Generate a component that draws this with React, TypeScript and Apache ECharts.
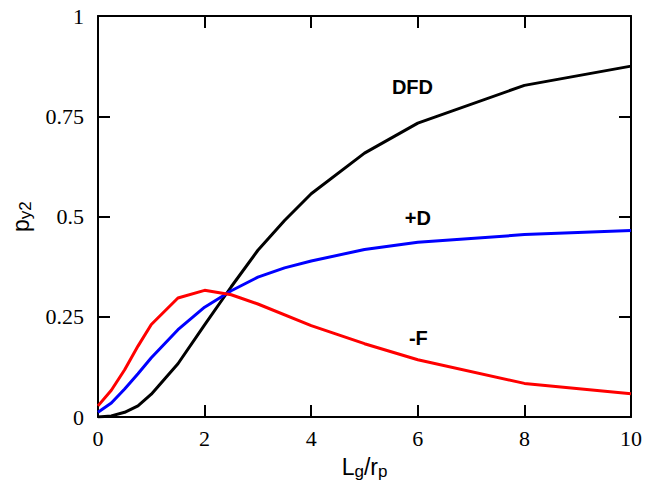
import React, { useEffect, useRef } from "react";
import * as echarts from "echarts";

const xDFD = [0, 0.25, 0.5, 0.75, 1, 1.5, 2, 2.5, 3, 3.5, 4, 5, 6, 8, 10];
const yDFD = [0, 0.003, 0.012, 0.028, 0.057, 0.133, 0.23, 0.325, 0.416, 0.49, 0.557, 0.658, 0.733, 0.827, 0.875];

const xPD = [0, 0.25, 0.5, 0.75, 1, 1.5, 2, 2.5, 3, 3.5, 4, 5, 6, 8, 10];
const yPD = [0.012, 0.035, 0.07, 0.108, 0.148, 0.218, 0.274, 0.315, 0.349, 0.372, 0.389, 0.418, 0.436, 0.455, 0.465];

const xMF = [0, 0.25, 0.5, 0.75, 1, 1.5, 2, 2.5, 3, 4, 5, 6, 8, 10];
const yMF = [0.028, 0.067, 0.118, 0.177, 0.231, 0.297, 0.316, 0.305, 0.282, 0.228, 0.183, 0.143, 0.084, 0.058];

const xTicks = { min: 0, max: 10, interval: 2 };
const yTicks = { min: 0, max: 1, interval: 0.25 };

const curveLabels = [
  { text: "DFD", x: 5.9, y: 0.824 },
  { text: "+D", x: 6.0, y: 0.4975 },
  { text: "-F", x: 6.01, y: 0.198 },
];

const zip = (xs: number[], ys: number[]) => xs.map((x, i) => [x, ys[i]]);

export default function App() {
  const ref = useRef<HTMLDivElement>(null);
  useEffect(() => {
    if (!ref.current) return;
    const chart = echarts.init(ref.current, undefined, { renderer: "svg" });
    const axisLine = { show: true, onZero: false, lineStyle: { color: "#000", width: 2 } };
    const axisTick = { show: true, inside: true, length: 12, lineStyle: { color: "#000", width: 2 } };
    const serif = "Liberation Serif";
    const sans = "Liberation Sans";
    const tickFont = { fontFamily: serif, fontSize: 22, color: "#000" };
    const nameRich = {
      n: { fontFamily: sans, fontSize: 23, color: "#000", lineHeight: 26 },
      s: { fontFamily: sans, fontSize: 17, color: "#000", lineHeight: 26, verticalAlign: "bottom", padding: [9, 0, 0, 0] },
    };
    const mk = (name: string, color: string, data: number[][], lbl: { text: string; x: number; y: number }) => ({
      type: "line",
      name,
      data,
      showSymbol: false,
      symbol: "none",
      lineStyle: { color, width: 3 },
      markPoint: {
        symbol: "circle",
        symbolSize: 1,
        itemStyle: { color: "rgba(0,0,0,0)" },
        label: {
          show: true,
          position: "inside",
          formatter: lbl.text,
          fontFamily: sans,
          fontWeight: "bold",
          fontSize: 20,
          color: "#000",
        },
        data: [{ coord: [lbl.x, lbl.y] }],
      },
    });
    chart.setOption({
      animation: false,
      backgroundColor: "#fff",
      textStyle: { fontFamily: serif },
      grid: { left: 96.5, right: 26, top: 16, bottom: 65 },
      xAxis: [
        {
          type: "value",
          ...xTicks,
          axisLine,
          axisTick,
          splitLine: { show: false },
          axisLabel: { fontFamily: serif, fontSize: 22, color: "#000", margin: 10 },
          name: "{n|L}{s|g}{n|/r}{s|p}",
          nameLocation: "middle",
          nameGap: 31,
          nameTextStyle: { rich: nameRich },
        },
        {
          type: "value",
          position: "top",
          ...xTicks,
          axisLine,
          axisTick,
          splitLine: { show: false },
          axisLabel: { show: false },
        },
      ],
      yAxis: [
        {
          type: "value",
          ...yTicks,
          axisLine,
          axisTick,
          splitLine: { show: false },
          axisLabel: { fontFamily: serif, fontSize: 22, color: "#000", margin: 14 },
          name: "{n|p}{s|y2}",
          nameLocation: "middle",
          nameGap: 64,
          nameRotate: 90,
          nameTextStyle: { rich: nameRich },
        },
        {
          type: "value",
          position: "right",
          ...yTicks,
          axisLine,
          axisTick,
          splitLine: { show: false },
          axisLabel: { show: false },
        },
      ],
      series: [
        mk("DFD", "#000000", zip(xDFD, yDFD), curveLabels[0]),
        mk("+D", "#0000ff", zip(xPD, yPD), curveLabels[1]),
        mk("-F", "#ff0000", zip(xMF, yMF), curveLabels[2]),
      ],
    });
    return () => chart.dispose();
  }, []);
  return <div ref={ref} style={{ width: 657, height: 485, position: "absolute", left: 0, top: 0 }} />;
}
